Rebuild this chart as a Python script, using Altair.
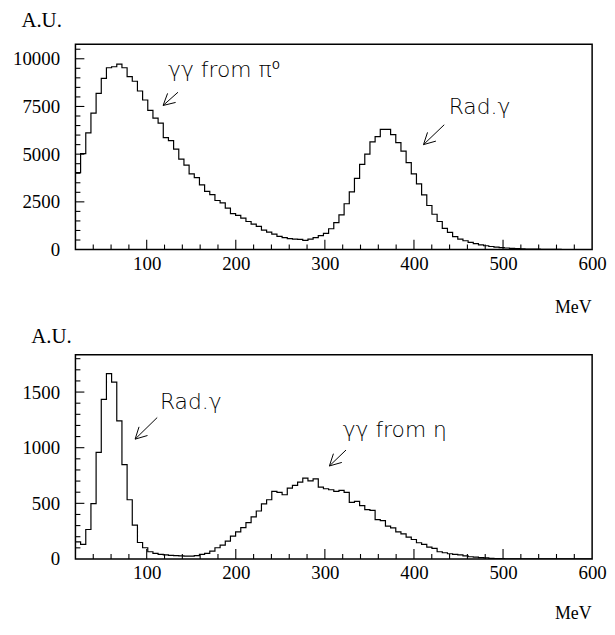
import math
import altair as alt
import pandas as pd

# ---------------- data ----------------
X_MIN, X_MAX = 20, 600
N_BINS = 100

top_counts = [
    4030, 5030, 6120, 7150, 8190, 8970, 9530, 9580, 9720, 9530,
    9060, 8820, 8310, 7840, 7290, 6890, 6630, 5870, 5710, 5260,
    4740, 4430, 3970, 3770, 3390, 3050, 2880, 2570, 2450, 2170,
    1880, 1790, 1650, 1470, 1330, 1210, 1020, 910, 810, 690,
    625, 575, 550, 535, 485, 550, 625, 730, 850, 1090,
    1410, 1820, 2400, 3020, 3730, 4460, 5000, 5640, 5920, 6300,
    6300, 6020, 5600, 5160, 4560, 3970, 3440, 2870, 2310, 1850,
    1470, 1110, 900, 680, 550, 460, 380, 310, 250, 200,
    160, 125, 100, 80, 62, 48, 38, 30, 24, 18,
    14, 10, 8, 6, 4, 3, 2, 1, 1, 0,
]

bottom_counts = [
    154, 131, 265, 497, 958, 1434, 1666, 1589, 1241, 848,
    532, 304, 148, 101, 65, 50, 41, 36, 32, 30,
    27, 25, 25, 30, 41, 50, 71, 101, 125, 160,
    205, 244, 282, 327, 378, 431, 495, 532, 607, 598,
    577, 637, 661, 690, 726, 702, 720, 646, 631, 622,
    607, 616, 598, 509, 518, 479, 443, 437, 354, 345,
    295, 280, 244, 226, 196, 175, 146, 131, 107, 95,
    65, 56, 47, 41, 36, 27, 20, 17, 12, 10,
    6, 4, 3, 2, 1, 0, 0, 0, 0, 0,
    0, 0, 0, 0, 0, 0, 0, 0, 0, 0,
]

x_label_values = [100, 200, 300, 400, 500, 600]
x_major_ticks = [100, 200, 300, 400, 500]
x_minor_ticks = [v for v in range(40, 600, 20) if v % 100 != 0]

top_y_labels = [0, 2500, 5000, 7500, 10000]
top_y_major = [2500, 5000, 7500, 10000]
top_y_minor = [v for v in range(500, 10760, 500) if v % 2500 != 0]
top_ymax = 10760

bot_y_labels = [0, 500, 1000, 1500]
bot_y_major = [500, 1000, 1500]
bot_y_minor = [v for v in range(100, 1836, 100) if v % 500 != 0]
bot_ymax = 1836

# annotations: text, x (MeV), y (A.U.) of the text's left baseline
top_texts = ["γγ from π⁰", "Rad.γ"]
top_text_x = [124, 439]
top_text_y = [9026, 7100]
top_arrow_tip = [(118.4, 7552), (410.7, 5500)]
top_arrow_tail = [(135.1, 8245), (434.0, 6542)]

bot_texts = ["Rad.γ", "γγ from η"]
bot_text_x = [114.8, 320]
bot_text_y = [1345, 1098]
bot_arrow_tip = [(87.0, 1077), (305.1, 836)]
bot_arrow_tail = [(111.8, 1271), (323.7, 979)]

# ---------------- layout ----------------
W = 521
H_TOP = 207
H_BOT = 206
SERIF = "Liberation Serif"
SANS = "DejaVu Sans"
LABEL_SIZE = 19

BIN_W = (X_MAX - X_MIN) / N_BINS
edges = [X_MIN + i * BIN_W for i in range(N_BINS + 1)]


def arrow_df(tips, tails, ymax, H):
    sx = W / (X_MAX - X_MIN)
    sy = H / ymax
    rows = []
    arm_len = 13.0
    ang = math.radians(28)
    for (tx, ty), (ux, uy) in zip(tips, tails):
        rows.append({"x": ux, "y": uy, "x2": tx, "y2": ty})
        dx = (ux - tx) * sx
        dy = (uy - ty) * sy
        n = math.hypot(dx, dy)
        dx, dy = dx / n, dy / n
        for s in (1, -1):
            ca, sa = math.cos(s * ang), math.sin(s * ang)
            rx = dx * ca - dy * sa
            ry = dx * sa + dy * ca
            rows.append({"x": tx, "y": ty,
                         "x2": tx + rx * arm_len / sx,
                         "y2": ty + ry * arm_len / sy})
    return pd.DataFrame(rows)


def panel(counts, ymax, H, y_labels, y_major, y_minor, texts, tx, ty,
          tips, tails, au_x, au_y, mev_y):
    xs = alt.Scale(domain=[X_MIN, X_MAX], nice=False, zero=False)
    ys = alt.Scale(domain=[0, ymax], nice=False, zero=True)

    x_axis = alt.Axis(
        values=x_label_values, format="d", ticks=False, domain=False,
        grid=False, labelFont=SERIF, labelFontSize=LABEL_SIZE,
        labelColor="black", labelPadding=5, labelFlush=False,
        labelOverlap=False,
        title="MeV", titleFont=SERIF, titleFontSize=18,
        titleFontWeight="normal", titleColor="black",
        titleAlign="right", titleBaseline="alphabetic",
        titleX=W - 1, titleY=mev_y,
    )
    y_axis = alt.Axis(
        values=y_labels, format="d", ticks=False, domain=False,
        grid=False, labelFont=SERIF, labelFontSize=LABEL_SIZE,
        labelColor="black", labelPadding=16, labelBaseline="middle",
        labelOverlap=False, labelFlush=False,
        title="A.U.", titleFont=SERIF, titleFontSize=21,
        titleFontWeight="normal", titleColor="black", titleAngle=0,
        titleAlign="left", titleBaseline="alphabetic",
        titleX=au_x, titleY=au_y,
    )

    def X(field):
        return alt.X(field, scale=xs, axis=x_axis, title="MeV")

    def Y(field):
        return alt.Y(field, scale=ys, axis=y_axis, title="A.U.")

    hist_df = pd.DataFrame({"x": edges, "y": list(counts) + [counts[-1]]})
    hist = alt.Chart(hist_df).mark_line(
        interpolate="step-after", color="black", strokeWidth=1.2, clip=True
    ).encode(x=X("x:Q"), y=Y("y:Q"))

    xmaj = alt.Chart(pd.DataFrame({"x": x_major_ticks})).mark_rule(
        color="black", strokeWidth=1.1
    ).encode(x=X("x:Q"), y=alt.value(H), y2=alt.value(H - 10))
    xmin = alt.Chart(pd.DataFrame({"x": x_minor_ticks})).mark_rule(
        color="black", strokeWidth=1.1
    ).encode(x=X("x:Q"), y=alt.value(H), y2=alt.value(H - 5))
    ymaj = alt.Chart(pd.DataFrame({"y": y_major})).mark_rule(
        color="black", strokeWidth=1.1
    ).encode(y=Y("y:Q"), x=alt.value(0), x2=alt.value(9))
    ymin = alt.Chart(pd.DataFrame({"y": y_minor})).mark_rule(
        color="black", strokeWidth=1.1
    ).encode(y=Y("y:Q"), x=alt.value(0), x2=alt.value(5))

    ann = alt.Chart(pd.DataFrame({"t": texts, "x": tx, "y": ty})).mark_text(
        align="left", baseline="alphabetic", font=SANS, fontSize=22,
        fontWeight=200, color="black"
    ).encode(x=X("x:Q"), y=Y("y:Q"), text="t:N")

    arr = alt.Chart(arrow_df(tips, tails, ymax, H)).mark_rule(
        color="black", strokeWidth=1.0
    ).encode(x=X("x:Q"), y=Y("y:Q"), x2="x2:Q", y2="y2:Q")

    return alt.layer(hist, xmaj, xmin, ymaj, ymin, ann, arr).properties(
        width=W, height=H
    )


top = panel(top_counts, top_ymax, H_TOP, top_y_labels, top_y_major,
            top_y_minor, top_texts, top_text_x, top_text_y,
            top_arrow_tip, top_arrow_tail, au_x=-55, au_y=-18, mev_y=63.5)
bottom = panel(bottom_counts, bot_ymax, H_BOT, bot_y_labels, bot_y_major,
               bot_y_minor, bot_texts, bot_text_x, bot_text_y,
               bot_arrow_tip, bot_arrow_tail, au_x=-45, au_y=-12, mev_y=60)

chart = alt.vconcat(top, bottom, spacing=106, bounds="flush").properties(
    padding={"left": 3, "top": -2, "right": 0, "bottom": -3},
    background="white",
).configure_view(
    stroke="black", strokeWidth=1.5, fill="white"
)

chart.save("out.html", embed_options={"renderer": "svg", "actions": False})
